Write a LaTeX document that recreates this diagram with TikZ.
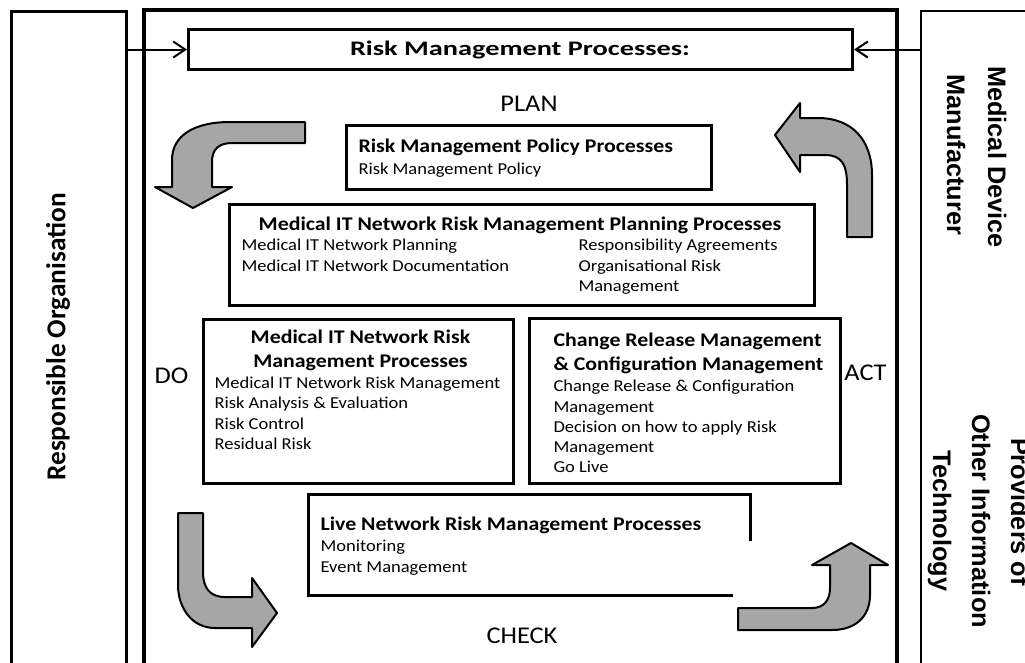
\documentclass[tikz,border=0pt]{standalone}
\usepackage{fontspec}
\setmainfont{Carlito}
\newfontfamily\sidefont{Liberation Sans}
\usetikzlibrary{arrows.meta}
\definecolor{arrowgrey}{RGB}{166,166,166}
\tikzset{every picture/.style={line width=0.75pt}}
\tikzset{
  colbox/.style={draw, line width=2.25pt, anchor=north west, inner sep=0pt},
  procbox/.style={draw, line width=2.25pt, anchor=north west, inner sep=0pt},
  headtxt/.style={font=\bfseries\fontsize{14.5}{18}\selectfont, inner sep=0pt, xscale=1.13},
  bodytxt/.style={font=\fontsize{12.5}{15.2}\selectfont, inner sep=0pt, xscale=1.11, align=left, anchor=base west},
  phasetxt/.style={font=\fontsize{18}{20}\selectfont, inner sep=0pt, xscale=1.1, anchor=base},
  sidetxt/.style={font=\sidefont\bfseries\fontsize{19}{22}\selectfont, inner sep=0pt, rotate=-90, anchor=base},
  bendarrow/.style={draw, line width=1.5pt, fill=arrowgrey, line join=round},
  feed/.style={line width=1.5pt, -{Straight Barb[length=9pt,width=12pt]}}
}

\begin{document}
\begin{tikzpicture}[x=0.75pt,y=0.75pt,yscale=-1,xscale=1]
\useasboundingbox (0,0) rectangle (1025,662);

% side columns and the main frame
\node[colbox, minimum width=86.25pt, minimum height=525pt] (org) at (10,10) {};
\node[colbox, line width=1.5pt, minimum width=112.5pt, minimum height=525pt] (ext) at (920,10) {};
\node[colbox, line width=3pt, minimum width=564.75pt, minimum height=525pt] (frame) at (142,8) {};

\node[font=\bfseries\fontsize{20.5}{24}\selectfont, rotate=90, inner sep=0pt] (orgtext) at (58,337) {Responsible Organisation};
\node[sidetxt] (mdm1) at (988,157) {Medical Device};
\node[sidetxt] (mdm2) at (947,155) {Manufacturer};
\node[sidetxt] (oit1) at (1011,512) {Providers of};
\node[sidetxt] (oit2) at (972,521) {Other Information};
\node[sidetxt] (oit3) at (933,521) {Technology};

% title bar
\node[procbox, minimum width=498pt, minimum height=30pt] (title) at (187,28) {};
\node[font=\bfseries\fontsize{15.5}{18}\selectfont, inner sep=0pt, xscale=1.37, anchor=base] (titletext) at (520,55.7) {Risk Management Processes:};
\draw[feed] (org.east |- title.west) -- (title.west);
\draw[feed] (ext.west |- title.east) -- (title.east);

% phase labels
\node[phasetxt] (plan) at (529,111.7) {PLAN};
\node[phasetxt] (do) at (171.5,383) {DO};
\node[phasetxt] (act) at (865.5,380) {ACT};
\node[phasetxt] (check) at (522,643) {CHECK};

% process boxes (multi-line texts sit on the baseline of their last line)
\node[procbox, minimum width=273.75pt, minimum height=48pt] (policy) at (345,124) {};
\node[headtxt, anchor=base west] (policyhead) at (358,152) {Risk Management Policy Processes};
\node[bodytxt] (policybody) at (358,174) {Risk Management Policy};

\node[procbox, minimum width=438.75pt, minimum height=75.75pt] (planning) at (228,203) {};
\node[headtxt, anchor=base] (planninghead) at (520,230) {Medical IT Network Risk Management Planning Processes};
\node[bodytxt] (planningleft) at (241,271) {Medical IT Network Planning\\Medical IT Network Documentation};
\node[bodytxt] (planningright) at (578,291.5) {Responsibility Agreements\\Organisational Risk\\Management};

\node[procbox, minimum width=232.5pt, minimum height=123pt] (riskproc) at (202,318) {};
\node[headtxt, anchor=base, align=center] (riskprochead) at (360.5,367.5) {Medical IT Network Risk\\Management Processes};
\node[bodytxt] (riskprocbody) at (214,449.5) {Medical IT Network Risk Management\\Risk Analysis \& Evaluation\\Risk Control\\Residual Risk};

\node[procbox, minimum width=233.25pt, minimum height=123.75pt] (change) at (528,317) {};
\node[headtxt, anchor=base west, align=left] (changehead) at (553,370.5) {Change Release Management\\\& Configuration Management};
\node[bodytxt] (changebody) at (553,472.8) {Change Release \& Configuration\\Management\\Decision on how to apply Risk\\Management\\Go Live};

\node[procbox, minimum width=331.5pt, minimum height=75.75pt] (live) at (307,493) {};
\node[headtxt, anchor=base west] (livehead) at (320,530) {Live Network Risk Management Processes};
\node[bodytxt] (livebody) at (320,572) {Monitoring\\Event Management};
\fill[white] (733,541) rectangle (760,600);

% cycle arrows: plan -> do -> check -> act -> plan
\draw[bendarrow] (305,122) -- (230,122) .. controls (195,122) and (172,135) .. (172,160) -- (172,187) -- (155,187) -- (193,208) -- (232,187) -- (212,187) -- (212,162) .. controls (212,150) and (218,143) .. (232,143) -- (305,143) -- cycle ;
\draw[bendarrow] (178,513) -- (203,513) -- (203,572) .. controls (203,588) and (210,597) .. (225,597) -- (252,597) -- (252,578) -- (277,613) -- (252,647) -- (252,628) -- (215,628) .. controls (192,628) and (178,608) .. (178,585) -- cycle ;
\draw[bendarrow] (738,608) -- (812,608) .. controls (824,608) and (830,600) .. (830,588) -- (830,565) -- (812,565) -- (851,543) -- (888,565) -- (870,565) -- (870,595) .. controls (870,617) and (855,630) .. (832,630) -- (738,630) -- cycle ;
\draw[bendarrow] (847,237) -- (847,185) .. controls (847,165) and (842,155) .. (825,155) -- (800,155) -- (800,172) -- (775,135) -- (800,103) -- (800,118) -- (818,118) .. controls (852,118) and (872,140) .. (872,175) -- (872,237) -- cycle ;

\end{tikzpicture}
\end{document}
